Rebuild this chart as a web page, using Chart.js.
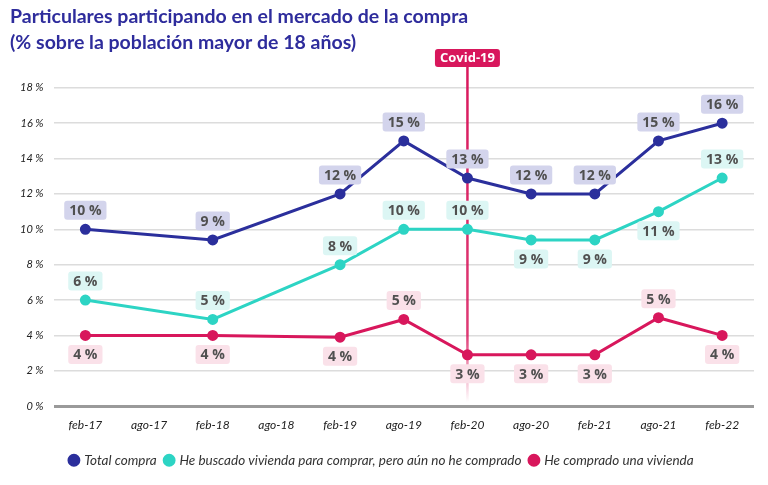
<!DOCTYPE html>
<html>
<head>
<meta charset="utf-8">
<script src="https://cdn.jsdelivr.net/npm/chart.js@4.4.1/dist/chart.umd.min.js"></script>
<style>
  html, body { margin: 0; padding: 0; background: #fff; }
  #wrap { width: 768px; height: 485px; }
</style>
</head>
<body>
<div id="wrap"><canvas id="chart"></canvas></div>
<script>
const periods = ['feb-17', 'ago-17', 'feb-18', 'ago-18', 'feb-19', 'ago-19', 'feb-20', 'ago-20', 'feb-21', 'ago-21', 'feb-22'];
const totalCompra = [10, null, 9.4, null, 12, 15, 12.9, 12, 12, 15, 16];
const buscado = [6, null, 4.9, null, 8, 10, 10, 9.4, 9.4, 11, 12.9];
const comprado = [4, null, 4, null, 3.9, 4.9, 2.9, 2.9, 2.9, 5, 4];
const yTicks = [0, 2, 4, 6, 8, 10, 12, 14, 16, 18];
const covidPeriod = 'feb-20';

// where each value label sits: above or below its point
const totalSide = ['up', null, 'up', null, 'up', 'up', 'up', 'up', 'up', 'up', 'up'];
const buscadoSide = ['up', null, 'up', null, 'up', 'up', 'up', 'down', 'down', 'down', 'up'];
const compradoSide = ['down', null, 'down', null, 'down', 'up', 'down', 'down', 'down', 'up', 'down'];

const BLUE = '#2b2f9c';
const TEAL = '#2dd4c4';
const PINK = '#d8175c';

const valueLabels = {
  id: 'valueLabels',
  afterDatasetsDraw(chart) {
    const ctx = chart.ctx;
    ctx.save();
    ctx.font = 'bold 14px "Open Sans"';
    ctx.textAlign = 'center';
    ctx.textBaseline = 'middle';
    chart.data.datasets.forEach((ds, i) => {
      const meta = chart.getDatasetMeta(i);
      meta.data.forEach((pt, j) => {
        const v = ds.data[j];
        if (v === null) return;
        const txt = Math.round(v) + ' %';
        const y = pt.y + (ds.sides[j] === 'up' ? -19 : 19);
        const w = ctx.measureText(txt).width + 10;
        const h = 19;
        ctx.fillStyle = ds.tint;
        ctx.beginPath();
        ctx.roundRect(pt.x - w / 2, y - h / 2, w, h, 3);
        ctx.fill();
        ctx.fillStyle = '#505050';
        ctx.fillText(txt, pt.x, y + 1);
      });
    });
    ctx.restore();
  }
};

const covidMarker = {
  id: 'covidMarker',
  beforeDatasetsDraw(chart) {
    const ctx = chart.ctx;
    const area = chart.chartArea;
    const x = chart.scales.x.getPixelForValue(periods.indexOf(covidPeriod));
    const top = 64;
    const bottom = area.bottom - 4;
    const g = ctx.createLinearGradient(0, top, 0, bottom);
    g.addColorStop(0, PINK);
    g.addColorStop(0.8, 'rgba(216,23,92,0.85)');
    g.addColorStop(1, 'rgba(216,23,92,0)');
    ctx.save();
    ctx.strokeStyle = g;
    ctx.lineWidth = 2.5;
    ctx.beginPath();
    ctx.moveTo(x, top);
    ctx.lineTo(x, bottom);
    ctx.stroke();
    ctx.font = 'bold 13px "Open Sans"';
    const tw = ctx.measureText('Covid-19').width + 10;
    ctx.fillStyle = PINK;
    ctx.beginPath();
    ctx.roundRect(x - tw / 2, 49, tw, 18, 3);
    ctx.fill();
    ctx.fillStyle = '#fff';
    ctx.textAlign = 'center';
    ctx.textBaseline = 'middle';
    ctx.fillText('Covid-19', x, 58.5);
    ctx.restore();
  }
};

const ds = (label, data, color, tint, sides) => ({
  label, data, sides, tint,
  borderColor: color,
  backgroundColor: color,
  pointBackgroundColor: color,
  pointBorderColor: color,
  borderWidth: 3,
  pointRadius: 4,
  pointHoverRadius: 4,
  spanGaps: true,
  tension: 0
});

new Chart(document.getElementById('chart'), {
  type: 'line',
  data: {
    labels: periods,
    datasets: [
      ds('Total compra', totalCompra, BLUE, '#d3d4ec', totalSide),
      ds('He buscado vivienda para comprar, pero aún no he comprado', buscado, TEAL, '#dcf6f4', buscadoSide),
      ds('He comprado una vivienda', comprado, PINK, '#fae1e9', compradoSide)
    ]
  },
  options: {
    responsive: true,
    maintainAspectRatio: false,
    animation: false,
    layout: { padding: { left: 10, right: 14, top: 4, bottom: 8 } },
    plugins: {
      title: {
        display: true,
        text: ['Particulares participando en el mercado de la compra', '(% sobre la población mayor de 18 años)'],
        align: 'start',
        color: '#2e2c9c',
        font: { family: 'Lato', size: 19.5, weight: 'bold', lineHeight: 1.33 },
        padding: { top: 0, bottom: 32 }
      },
      legend: {
        position: 'bottom',
        labels: {
          usePointStyle: true,
          pointStyle: 'circle',
          boxWidth: 7,
          boxHeight: 7,
          padding: 9,
          color: '#333',
          font: { family: 'Lato', size: 13.5, style: 'italic' }
        }
      },
      tooltip: { enabled: false }
    },
    scales: {
      x: {
        offset: true,
        grid: { display: false, drawTicks: false },
        border: { display: false },
        ticks: {
          color: '#222',
          padding: 12,
          font: { family: 'Lato', size: 12, style: 'italic' }
        }
      },
      y: {
        min: 0,
        max: 18,
        afterBuildTicks(axis) { axis.ticks = yTicks.map(v => ({ value: v })); },
        border: { display: false },
        grid: {
          drawTicks: false,
          color: c => c.tick.value === 0 ? '#9a9a9a' : '#dcdcdc',
          lineWidth: c => c.tick.value === 0 ? 3 : 1.5
        },
        ticks: {
          color: '#222',
          padding: 10,
          font: { family: 'Lato', size: 11, style: 'italic' },
          callback: v => v + ' %'
        }
      }
    }
  },
  plugins: [covidMarker, valueLabels]
});
</script>
</body>
</html>
